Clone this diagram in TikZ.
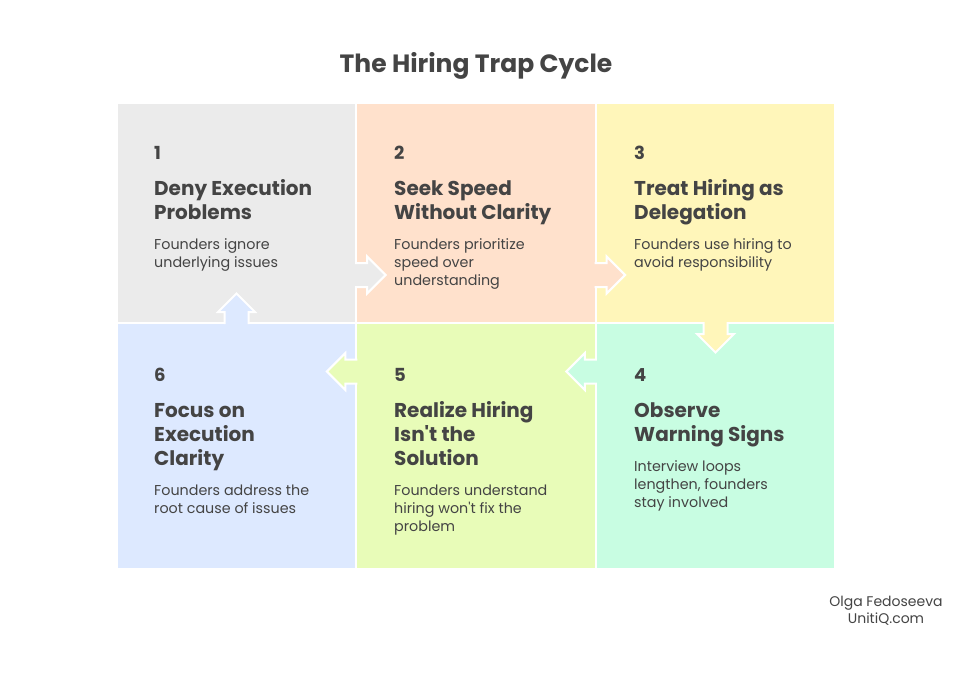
\documentclass[tikz,border=0pt]{standalone}
\usepackage{fontspec}
\setmainfont{Poppins}
\definecolor{ink}{HTML}{444444}
\definecolor{cA}{HTML}{EBEBEB}
\definecolor{cB}{HTML}{FFE1CC}
\definecolor{cC}{HTML}{FFF6BA}
\definecolor{cD}{HTML}{C8FDE2}
\definecolor{cE}{HTML}{E8FCB8}
\definecolor{cF}{HTML}{DDE9FF}
\tikzset{
  cellbox/.style={rectangle, draw=white, line width=2pt, inner sep=0pt, outer sep=0pt},
  numtxt/.style={anchor=base west, inner sep=0pt, text=ink, font=\fontsize{18}{22}\selectfont\bfseries},
  headtxt/.style={anchor=base west, inner sep=0pt, text=ink, align=left, font=\fontsize{20}{24}\selectfont\bfseries},
  bodytxt/.style={anchor=base west, inner sep=0pt, text=ink, align=left, font=\fontsize{14.3}{18}\selectfont},
  pics/flowarrow/.style={code={
    \path[fill=#1, draw=white, line width=2pt, line join=miter]
      (-1,12) -- (11,12) -- (11,18.5) -- (29.5,0) -- (11,-18.5) -- (11,-12) -- (-1,-12);
  }}
}
\begin{document}
\begin{tikzpicture}[x=1pt,y=-1pt]
\useasboundingbox[fill=white] (0,0) rectangle (973,682);
\node[text=ink, font=\fontsize{25}{30}\selectfont\bfseries] (title) at (476,66) {The Hiring Trap Cycle};
% cells
\node[cellbox, fill=cA, minimum width=239.3pt, minimum height=220pt] (c1) at (236.5,213) {};
\node[cellbox, fill=cB, minimum width=239.3pt, minimum height=220pt] (c2) at (476,213) {};
\node[cellbox, fill=cC, minimum width=239.3pt, minimum height=220pt] (c3) at (715.5,213) {};
\node[cellbox, fill=cF, minimum width=239.3pt, minimum height=246pt] (c6) at (236.5,446) {};
\node[cellbox, fill=cE, minimum width=239.3pt, minimum height=246pt] (c5) at (476,446) {};
\node[cellbox, fill=cD, minimum width=239.3pt, minimum height=246pt] (c4) at (715.5,446) {};
% arrows
\pic at (c1.east |- 0,275) {flowarrow=cA};
\pic at (c2.east |- 0,275) {flowarrow=cB};
\pic[rotate=-90] at (c3.south) {flowarrow=cC};
\pic[rotate=180] at (c4.west |- 0,371.5) {flowarrow=cD};
\pic[rotate=180] at (c5.west |- 0,371.5) {flowarrow=cE};
\pic[rotate=90] at (c6.north) {flowarrow=cF};
% cell 1 (anchors at the last line's baseline)
\node[numtxt] (n1) at (154,159) {1};
\node[headtxt] (h1) at (154,219) {Deny Execution\\Problems};
\node[bodytxt] (b1) at (154,267) {Founders ignore\\underlying issues};
% cell 2
\node[numtxt] (n2) at (394,159) {2};
\node[headtxt] (h2) at (394,219) {Seek Speed\\Without Clarity};
\node[bodytxt] (b2) at (394,285) {Founders prioritize\\speed over\\understanding};
% cell 3
\node[numtxt] (n3) at (634,159) {3};
\node[headtxt] (h3) at (634,219) {Treat Hiring as\\Delegation};
\node[bodytxt] (b3) at (634,267) {Founders use hiring to\\avoid responsibility};
% cell 4
\node[numtxt] (n4) at (634,381) {4};
\node[headtxt] (h4) at (634,441) {Observe\\Warning Signs};
\node[bodytxt] (b4) at (634,507) {Interview loops\\lengthen, founders\\stay involved};
% cell 5
\node[numtxt] (n5) at (394,381) {5};
\node[headtxt] (h5) at (394,465) {Realize Hiring\\Isn\textquotesingle t the\\Solution};
\node[bodytxt] (b5) at (394,531) {Founders understand\\hiring won\textquotesingle t fix the\\problem};
% cell 6
\node[numtxt] (n6) at (154,381) {6};
\node[headtxt] (h6) at (154,465) {Focus on\\Execution\\Clarity};
\node[bodytxt] (b6) at (154,513) {Founders address the\\root cause of issues};
% signature
\node[text=ink, align=center, font=\fontsize{14}{17}\selectfont] (sig) at (886,611) {Olga Fedoseeva\\UnitiQ.com};
\end{tikzpicture}
\end{document}
